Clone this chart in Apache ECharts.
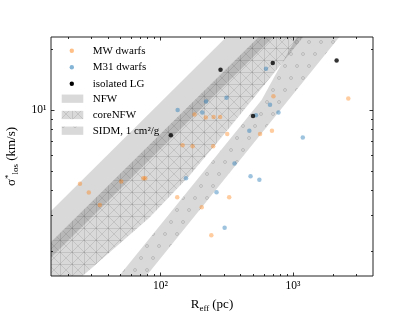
<!DOCTYPE html>
<html><head><meta charset="utf-8">
<script src="https://cdn.jsdelivr.net/npm/echarts@6/dist/echarts.min.js"></script>
<style>html,body{margin:0;padding:0;background:#fff}#c{width:415px;height:311px}</style>
</head><body><div id="c"></div>
<script>
// ---- point data (R_eff in pc, sigma in km/s) ----
const mwR = [24.8, 28.9, 35.0, 50.7, 74.4, 77.0, 147, 175, 250, 181, 220, 252, 282, 319, 134, 205, 330, 242, 564, 693, 711, 2606];
const mwSigma = [4.30, 3.89, 3.38, 4.41, 4.58, 4.58, 6.68, 6.61, 6.61, 9.48, 9.16, 9.23, 9.23, 7.60, 3.69, 3.29, 3.69, 2.39, 7.60, 7.89, 11.7, 11.4];
const m31R = [135, 207, 221, 315, 625, 670, 525, 776, 468, 1183, 362, 156, 478, 557, 265, 305];
const m31Sigma = [10.0, 9.70, 11.0, 11.5, 16.0, 10.6, 9.41, 9.70, 7.89, 7.30, 5.42, 4.58, 4.69, 4.50, 3.91, 2.60];
const lgR = [120, 284, 499, 703, 2128];
const lgSigma = [7.48, 15.8, 9.34, 17.1, 17.6];

// ---- band edges ----
const nfwEdgeR = [10, 5000];
const nfwUpper = [2.42, 140.3];
const nfwLower = [1.418, 82.3];
const coreUpperR = [10, 5000];
const coreUpper = [1.70, 96.6];
const coreLowerR = [10, 25.9, 82.6, 165.6, 332.7, 792.5, 1211, 1995];
const coreLower = [0.87, 1.50, 2.92, 4.71, 8.17, 16.5, 23.3, 34.9];
const sidmUpperR = [35.0, 49.0, 579, 793, 1067, 1337];
const sidmUpper = [1.14, 1.503, 11.21, 16.34, 23.0, 31.3];
const sidmLowerR = [50, 5000];
const sidmLower = [1.04, 44.4];

// ---- ticks ----
const xMajorTicks = [100, 1000];
const xMinorTicks = [20, 30, 40, 50, 60, 70, 80, 90, 200, 300, 400, 500, 600, 700, 800, 900, 2000, 3000];
const yMajorTicks = [10];
const yMinorTicks = [2, 3, 4, 5, 6, 7, 8, 9, 20];
const supMap = {'1': '\u00b9', '2': '\u00b2', '3': '\u00b3'};

const FONT = 'Liberation Serif';
const mwColor = 'rgba(255,127,14,0.5)';
const m31Color = 'rgba(31,119,180,0.55)';
const bandFill = 'rgba(0,0,0,0.15)';

function makeHatch() {
  const c = document.createElement('canvas'); c.width = 12; c.height = 12;
  const g = c.getContext('2d');
  g.fillStyle = bandFill; g.fillRect(0, 0, 12, 12);
  g.strokeStyle = 'rgba(0,0,0,0.10)'; g.lineWidth = 1;
  g.beginPath();
  g.moveTo(0, 0.5); g.lineTo(12, 0.5);
  g.moveTo(0.5, 0); g.lineTo(0.5, 12);
  g.moveTo(0, 0); g.lineTo(12, 12);
  g.moveTo(0, 12); g.lineTo(12, 0);
  g.stroke();
  return c;
}
function makeDots() {
  const c = document.createElement('canvas'); c.width = 12; c.height = 24;
  const g = c.getContext('2d');
  g.fillStyle = bandFill; g.fillRect(0, 0, 12, 24);
  g.strokeStyle = 'rgba(0,0,0,0.16)'; g.lineWidth = 0.9;
  g.beginPath(); g.arc(3, 6, 1.5, 0, 2 * Math.PI); g.stroke();
  g.beginPath(); g.arc(9, 18, 1.5, 0, 2 * Math.PI); g.stroke();
  return c;
}
const hatchFill = {image: makeHatch(), repeat: 'repeat'};
const dotFill = {image: makeDots(), repeat: 'repeat'};

function bandSeries(name, upR, up, loR, lo, fill, z) {
  return {
    type: 'custom', name: name, clip: true, z: z, silent: true,
    data: [[100, 5]],
    renderItem: function (params, api) {
      const pts = [];
      for (let i = 0; i < upR.length; i++) pts.push(api.coord([upR[i], up[i]]));
      for (let i = loR.length - 1; i >= 0; i--) pts.push(api.coord([loR[i], lo[i]]));
      return {type: 'polygon', shape: {points: pts}, style: {fill: fill, stroke: null}};
    }
  };
}

function zip(a, b) { return a.map((v, i) => [v, b[i]]); }

const chart = echarts.init(document.getElementById('c'), null, {renderer: 'canvas'});

const tickSeries = {
  type: 'custom', silent: true, clip: false, z: 20,
  data: [[100, 5]],
  renderItem: function (params, api) {
    const cs = params.coordSys;
    const ch = [];
    const add = (x1, y1, x2, y2) => ch.push({type: 'line', shape: {x1, y1, x2, y2}, style: {stroke: '#000', lineWidth: 0.8}});
    const bottom = cs.y + cs.height, top = cs.y, left = cs.x, right = cs.x + cs.width;
    const doX = (vals, len) => vals.forEach(v => {
      const px = Math.round(api.coord([v, 5])[0]) + 0.5;
      add(px, bottom, px, bottom - len); add(px, top, px, top + len);
    });
    const doY = (vals, len) => vals.forEach(v => {
      const py = Math.round(api.coord([100, v])[1]) + 0.5;
      add(left, py, left + len, py); add(right, py, right - len, py);
    });
    doX(xMajorTicks, 3.5); doX(xMinorTicks, 2);
    doY(yMajorTicks, 3.5); doY(yMinorTicks, 2);
    return {type: 'group', children: ch};
  }
};

function powLabel(v) {
  const l = Math.log10(v);
  const r = Math.round(l);
  if (Math.abs(l - r) < 1e-6) return '10' + (supMap[String(r)] || '');
  return '';
}

const lx = 61.7, lw = 21.6, lh = 8.3, tx = 92.7;
const rows = [50.7, 67.3, 83.7, 98.7, 115.0, 130.7];
const legendFont = '11px "' + FONT + '"';
const graphic = [
  {type: 'circle', shape: {cx: 71.8, cy: rows[0], r: 2.2}, style: {fill: mwColor}},
  {type: 'circle', shape: {cx: 71.8, cy: rows[1], r: 2.2}, style: {fill: m31Color}},
  {type: 'circle', shape: {cx: 71.8, cy: rows[2], r: 2.2}, style: {fill: '#000'}},
  {type: 'rect', shape: {x: lx, y: rows[3] - lh / 2, width: lw, height: lh}, style: {fill: bandFill}},
  {type: 'rect', shape: {x: lx, y: rows[4] - lh / 2, width: lw, height: lh}, style: {fill: hatchFill}},
  {type: 'rect', shape: {x: lx, y: rows[5] - lh / 2, width: lw, height: lh}, style: {fill: dotFill}},
];
const legendTexts = ['MW dwarfs', 'M31 dwarfs', 'isolated LG', 'NFW', 'coreNFW', 'SIDM, 1 cm\u00b2/g'];
legendTexts.forEach((t, i) => graphic.push({type: 'text', x: tx, y: rows[i], style: {text: t, font: legendFont, fill: '#000', verticalAlign: 'middle'}}));

chart.setOption({
  animation: false,
  backgroundColor: '#fff',
  textStyle: {fontFamily: FONT},
  grid: {left: 51, top: 37, width: 322, height: 239, containLabel: false, outerBoundsMode: 'none',
         show: true, borderColor: '#222', borderWidth: 1, backgroundColor: 'transparent'},
  xAxis: {
    type: 'log', logBase: 10, min: 15, max: 4000,
    axisLine: {show: false}, axisTick: {show: false}, splitLine: {show: false}, minorTick: {show: false},
    axisLabel: {formatter: powLabel, fontFamily: FONT, fontSize: 11.5, color: '#000', margin: 4, showMinLabel: false, showMaxLabel: false},
    name: '{a|R}{s|eff} {a|(pc)}', nameLocation: 'middle', nameGap: 21,
    nameTextStyle: {rich: {a: {fontFamily: FONT, fontSize: 13, color: '#000'}, s: {fontFamily: FONT, fontSize: 9, color: '#000', padding: [7, 0, 0, 0]}}}
  },
  yAxis: {
    type: 'log', logBase: 10, min: 1.5, max: 23,
    axisLine: {show: false}, axisTick: {show: false}, splitLine: {show: false}, minorTick: {show: false},
    axisLabel: {formatter: powLabel, fontFamily: FONT, fontSize: 11.5, color: '#000', margin: 4.5, showMinLabel: false, showMaxLabel: false},
    name: '{a|\u03c3}{p|*}{s|los}{a| (km/s)}', nameLocation: 'middle', nameGap: 31, nameRotate: 90,
    nameTextStyle: {rich: {
      a: {fontFamily: FONT, fontSize: 13, color: '#000'},
      p: {fontFamily: FONT, fontSize: 9, color: '#000', padding: [0, 0, 7, 0]},
      s: {fontFamily: FONT, fontSize: 9, color: '#000', padding: [7, 0, 0, 0]}
    }}
  },
  series: [
    bandSeries('NFW', nfwEdgeR, nfwUpper, nfwEdgeR, nfwLower, bandFill, 1),
    bandSeries('coreNFW', coreUpperR, coreUpper, coreLowerR, coreLower, hatchFill, 2),
    bandSeries('SIDM', sidmUpperR, sidmUpper, sidmLowerR, sidmLower, dotFill, 3),
    {type: 'scatter', name: 'MW dwarfs', data: zip(mwR, mwSigma), symbolSize: 4.5, itemStyle: {color: mwColor}, z: 5, silent: true},
    {type: 'scatter', name: 'M31 dwarfs', data: zip(m31R, m31Sigma), symbolSize: 4.5, itemStyle: {color: m31Color}, z: 6, silent: true},
    {type: 'scatter', name: 'isolated LG', data: zip(lgR, lgSigma), symbolSize: 4.5, itemStyle: {color: '#000'}, z: 7, silent: true},
    tickSeries
  ],
  graphic: graphic
});
</script></body></html>
